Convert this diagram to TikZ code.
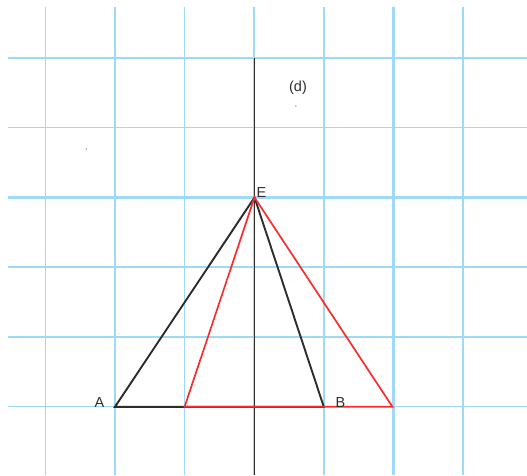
\documentclass[tikz,border=0pt]{standalone}
\usepackage{fontspec}
\setmainfont{Liberation Sans}
\definecolor{gridblue}{RGB}{160,216,247}
\definecolor{ink}{RGB}{45,45,45}
\definecolor{redline}{RGB}{250,45,45}
\tikzset{
  minorline/.style={draw=gridblue, line width=1.5pt},
  majorline/.style={draw=gridblue, line width=2.2pt},
  blackseg/.style={draw=ink, line width=1.9pt},
  redseg/.style={draw=redline, line width=1.7pt},
  lbl/.style={font=\fontsize{14.5}{16}\selectfont, text=ink, inner sep=0pt},
  speck/.style={fill=gray, circle, inner sep=0pt, minimum size=1.5pt}
}
\begin{document}
\begin{tikzpicture}[x=1pt,y=-1pt]
\useasboundingbox (0,0) rectangle (527,475);
% vertical grid lines
\foreach \i in {0,2,4,6}
  \draw[minorline] ({45.4+69.6*\i},6.7) -- ({45.4+69.6*\i},475);
\foreach \i in {1,3,5}
  \draw[majorline] ({45.4+69.6*\i},6.7) -- ({45.4+69.6*\i},475);
% horizontal grid lines
\foreach \j in {1,3,5}
  \draw[minorline] (8,{58+69.7*\j}) -- (527,{58+69.7*\j});
\foreach \j in {0,2,4}
  \draw[majorline] (8,{58+69.7*\j}) -- (527,{58+69.7*\j});
% points
\coordinate (top) at (254.5,58);
\coordinate (bot) at (254.5,475);
\coordinate (E) at (254.5,197.4);
\coordinate (A) at (115,406.8);
\coordinate (C) at (184.6,406.8);
\coordinate (B) at (323.8,406.8);
\coordinate (D) at (392.5,406.8);
% axis
\draw[blackseg] (top) -- (bot);
% black triangle
\draw[blackseg, line join=miter] (A) -- (E) -- (B) -- cycle;
% red triangle
\draw[redseg, line join=miter] (C) -- (E) -- (D) -- cycle;
% labels
\node[lbl, anchor=base] (lA) at (99.5,407.5) {A};
\node[lbl, anchor=base] (lB) at (340.5,407.5) {B};
\node[lbl, anchor=base west] (lE) at (256.5,197.5) {E};
\node[lbl] (ld) at (298,88) {(d)};
% specks
\node[speck] (s1) at (86.4,149) {};
\node[speck] (s2) at (295.8,106) {};
\node[speck, minimum size=1pt, fill=lightgray] (s3) at (119,333.7) {};
\end{tikzpicture}
\end{document}
